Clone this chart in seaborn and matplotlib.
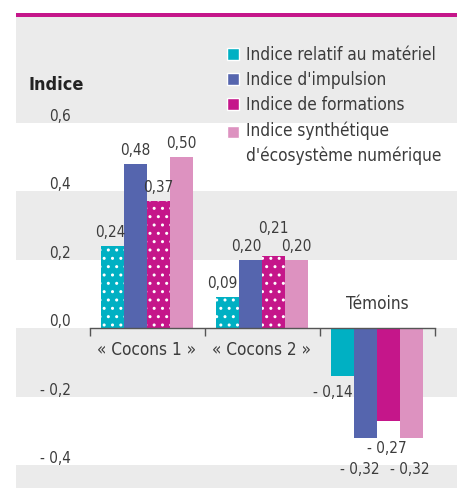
import matplotlib
matplotlib.use('Agg')
import matplotlib.pyplot as plt
import matplotlib.transforms as mtransforms
from matplotlib.patches import Patch
import pandas as pd
import seaborn as sns

groupes = ['« Cocons 1 »', '« Cocons 2 »', 'Témoins']
indices = ['Indice relatif au matériel', "Indice d'impulsion", 'Indice de formations',
           "Indice synthétique\nd'écosystème numérique"]
materiel = [0.24, 0.09, -0.14]
impulsion = [0.48, 0.20, -0.32]
formations = [0.37, 0.21, -0.27]
synthetique = [0.50, 0.20, -0.32]
couleurs = ['#00b0c3', '#5565ae', '#c5168a', '#dd92c0']
graduations = [0.6, 0.4, 0.2, 0.0, -0.2, -0.4]

df = pd.DataFrame({
    'groupe': groupes * 4,
    'indice': sum([[i] * 3 for i in indices], []),
    'valeur': materiel + impulsion + formations + synthetique,
})

def fr(v, dec=2):
    s = f"{abs(v):.{dec}f}".replace('.', ',')
    return ('- ' + s) if v < 0 else s

sns.set_theme(style='white')
plt.rcParams['font.family'] = ['DejaVu Sans']
plt.rcParams['font.stretch'] = 'condensed'
texte = '#3c3c3c'
fs_num = 11
fs_txt = 12.3

fig = plt.figure(figsize=(4.57, 4.88), dpi=100)
ax = fig.add_axes([0, 0, 1, 1])
sns.barplot(data=df, x='groupe', y='valeur', hue='indice', palette=couleurs,
            width=0.8, linewidth=0, saturation=1, legend=False, ax=ax, zorder=2)

ax.set_xlim(-147 / 115, 310 / 115)
ax.set_ylim(-0.467, 0.958)

# bandes grises alternees
gauche = 16 / 457
for lo in [-0.6, -0.2, 0.2]:
    ax.axhspan(lo, lo + 0.2, xmin=gauche, color='#ebebeb', lw=0, zorder=0)
ax.axhspan(0.6, 0.908, xmin=gauche, color='#ebebeb', lw=0, zorder=0)
ax.axhspan(0.909, 0.921, xmin=gauche, color='#c5168a', lw=0, zorder=0)

# points blancs sur les barres positives cyan et magenta
for k in [0, 2]:
    for bar in ax.containers[k][:2]:
        bar.set_hatch('..')
        bar.set_edgecolor('white')
        bar.set_linewidth(0)

# etiquettes de valeurs (decalages en pixels)
decal_pos = {(0, 0): (-2, 6), (0, 1): (-5, 6), (1, 1): (-4, 6), (2, 1): (0, 20)}
decal_neg = [(-10, -9), (-6, -24), (-2, -20), (-2, -24)]
for k, cont in enumerate(ax.containers):
    for j, bar in enumerate(cont):
        v = bar.get_height()
        x = bar.get_x() + bar.get_width() / 2
        if v >= 0:
            dx, dy = decal_pos.get((k, j), (0, 6))
            ax.annotate(fr(v), (x, v), xytext=(dx, dy), textcoords='offset pixels',
                        ha='center', va='bottom', fontsize=fs_num, color=texte)
        else:
            dx, dy = decal_neg[k]
            ax.annotate(fr(v), (x, v), xytext=(dx, dy), textcoords='offset pixels',
                        ha='center', va='top', fontsize=fs_num, color=texte)

# axe des categories
for s in ax.spines.values():
    s.set_visible(False)
ax.spines['bottom'].set_visible(True)
ax.spines['bottom'].set_position(('data', 0))
ax.spines['bottom'].set_bounds(-0.5, 2.5)
ax.spines['bottom'].set_color('#555555')
ax.spines['bottom'].set_linewidth(1)
ax.set_xticks([-0.5, 0.5, 1.5, 2.5], [''] * 4)
ax.tick_params(axis='x', length=6, width=1, color='#555555', direction='out', bottom=True)
ax.set_yticks([])
ax.set_xlabel('')
ax.set_ylabel('')

for i, g in enumerate(groupes):
    if i < 2:
        ax.annotate(g, (i, 0), xytext=(0, -13), textcoords='offset pixels',
                    ha='center', va='top', fontsize=fs_txt, color=texte)
    else:
        ax.annotate(g, (i, 0), xytext=(0, 15), textcoords='offset pixels',
                    ha='center', va='bottom', fontsize=fs_txt, color=texte)

# graduations
trans = mtransforms.blended_transform_factory(ax.transAxes, ax.transData)
for v in graduations:
    ax.annotate(fr(v, 1), (71 / 457, v), xycoords=trans, xytext=(0, 2),
                textcoords='offset pixels', ha='right', va='baseline',
                fontsize=fs_num, color=texte)

fig.text(28 / 457, 1 - 85 / 488, 'Indice', fontweight='bold', va='center', ha='left',
         fontsize=13, color='#222222')

poignees = [Patch(facecolor=c, label=l) for c, l in zip(couleurs, indices)]
leg = fig.legend(handles=poignees, loc='upper left', bbox_to_anchor=(227 / 457, 1 - 46 / 488),
                 frameon=False, handlelength=0.7, handleheight=0.7, handletextpad=0.4,
                 labelspacing=0.42, fontsize=fs_txt, borderaxespad=0, borderpad=0,
                 labelcolor=texte)
leg.get_texts()[3].set_linespacing(1.45)
# carre de la derniere entree aligne sur la premiere ligne
h = leg.legend_handles[3]
h.set_y(h.get_y() + 0.725 * fs_txt)

fig.savefig('out.png', dpi=100)
